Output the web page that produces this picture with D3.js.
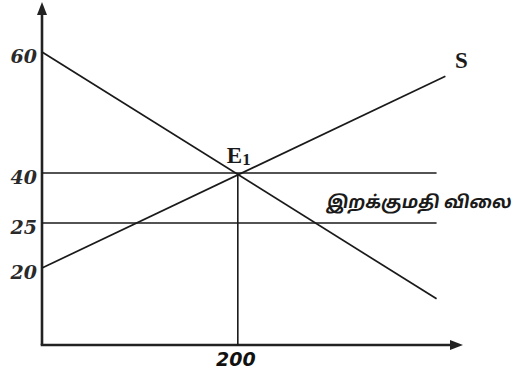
<!DOCTYPE html>
<html>
<head>
<meta charset="utf-8">
<script src="https://cdn.jsdelivr.net/npm/d3@7"></script>
<style>
  body { margin: 0; background: #fff; }
  svg { display: block; }
</style>
</head>
<body>
<svg id="chart" width="515" height="374"></svg>
<script>
// price ticks on the vertical axis (schematic, not evenly spaced)
let priceTicks = [60, 40, 25, 20];
let quantityTicks = [200];

// demand and supply lines: [quantity, price]
let demand = [[0, 60], [403, 12]];
let supply = [[0, 20], [412, 56]];

// horizontal price lines
let worldPrice = 40;
let importPrice = 25;
let lineEnd = 403;

// equilibrium
let eq = { q: 200, p: 40, label: "E" };
let supplyLabel = "S";
let importLabel = "இறக்குமதி விலை";

let svg = d3.select("#chart");

// the drawing is schematic, so price spacing is piecewise
let x = d3.scaleLinear().domain([0, 430]).range([42, 463]);
let y = d3.scaleLinear().domain([0, 20, 25, 40, 60]).range([345, 268, 223, 173, 52]);

let line = d3.line().x(d => x(d[0])).y(d => y(d[1]));

// axes with arrow heads
svg.append("line")
  .attr("x1", x(0)).attr("y1", y(0))
  .attr("x2", x(0)).attr("y2", 10)
  .attr("stroke", "#222").attr("stroke-width", 2.6);
svg.append("path")
  .attr("d", d3.line()([[x(0), 2], [x(0) - 5, 15], [x(0) + 5, 15]]) + "Z")
  .attr("fill", "#222");

svg.append("line")
  .attr("x1", x(0) - 1.3).attr("y1", y(0))
  .attr("x2", x(430) - 8).attr("y2", y(0))
  .attr("stroke", "#222").attr("stroke-width", 2.6);
svg.append("path")
  .attr("d", d3.line()([[x(430), y(0)], [x(430) - 13, y(0) - 5], [x(430) - 13, y(0) + 5]]) + "Z")
  .attr("fill", "#222");

// horizontal price lines
[worldPrice, importPrice].forEach(p => {
  svg.append("path")
    .attr("d", line([[0, p], [lineEnd, p]]))
    .attr("stroke", "#1a1a1a").attr("stroke-width", 1.7).attr("fill", "none");
});

// vertical drop from equilibrium
svg.append("path")
  .attr("d", line([[eq.q, 0], [eq.q, eq.p]]))
  .attr("stroke", "#1a1a1a").attr("stroke-width", 1.6).attr("fill", "none");

// demand and supply
[demand, supply].forEach(d => {
  svg.append("path")
    .attr("d", line(d))
    .attr("stroke", "#1a1a1a").attr("stroke-width", 1.7).attr("fill", "none");
});

// tick labels
svg.selectAll(".ytick")
  .data(priceTicks)
  .enter().append("text")
  .attr("class", "ytick")
  .attr("x", 37)
  .attr("y", d => y(d) + 11)
  .attr("text-anchor", "end")
  .attr("font-family", "DejaVu Serif, serif")
  .attr("font-weight", "bold")
  .attr("font-style", "italic")
  .attr("font-size", 19)
  .attr("fill", "#2a2a2a")
  .text(d => d);

svg.selectAll(".xtick")
  .data(quantityTicks)
  .enter().append("text")
  .attr("class", "xtick")
  .attr("x", d => x(d) - 2)
  .attr("y", 366)
  .attr("text-anchor", "middle")
  .attr("font-family", "DejaVu Sans, sans-serif")
  .attr("font-weight", "bold")
  .attr("font-style", "italic")
  .attr("font-size", 19)
  .attr("fill", "#111")
  .text(d => d);

// E1 label
let eText = svg.append("text")
  .attr("x", x(eq.q) - 11)
  .attr("y", y(eq.p) - 10)
  .attr("font-family", "Liberation Serif, serif")
  .attr("font-weight", "bold")
  .attr("font-size", 23)
  .attr("fill", "#1a1a1a")
  .text(eq.label);
eText.append("tspan")
  .attr("dy", 2)
  .attr("font-size", 17)
  .text("1");

// S label
svg.append("text")
  .attr("x", 455)
  .attr("y", 68)
  .attr("font-family", "Liberation Serif, serif")
  .attr("font-weight", "bold")
  .attr("font-size", 23)
  .attr("fill", "#1a1a1a")
  .text(supplyLabel);

// import price label (slanted by hand, the Tamil font has no italic)
svg.append("text")
  .attr("transform", "translate(326,208) skewX(-10)")
  .attr("font-family", "'Noto Sans Tamil', 'Lohit Tamil', 'Noto Sans', sans-serif")
  .attr("font-weight", "bold")
  .attr("font-size", 17.5)
  .attr("fill", "#1a1a1a")
  .text(importLabel);
</script>
</body>
</html>
